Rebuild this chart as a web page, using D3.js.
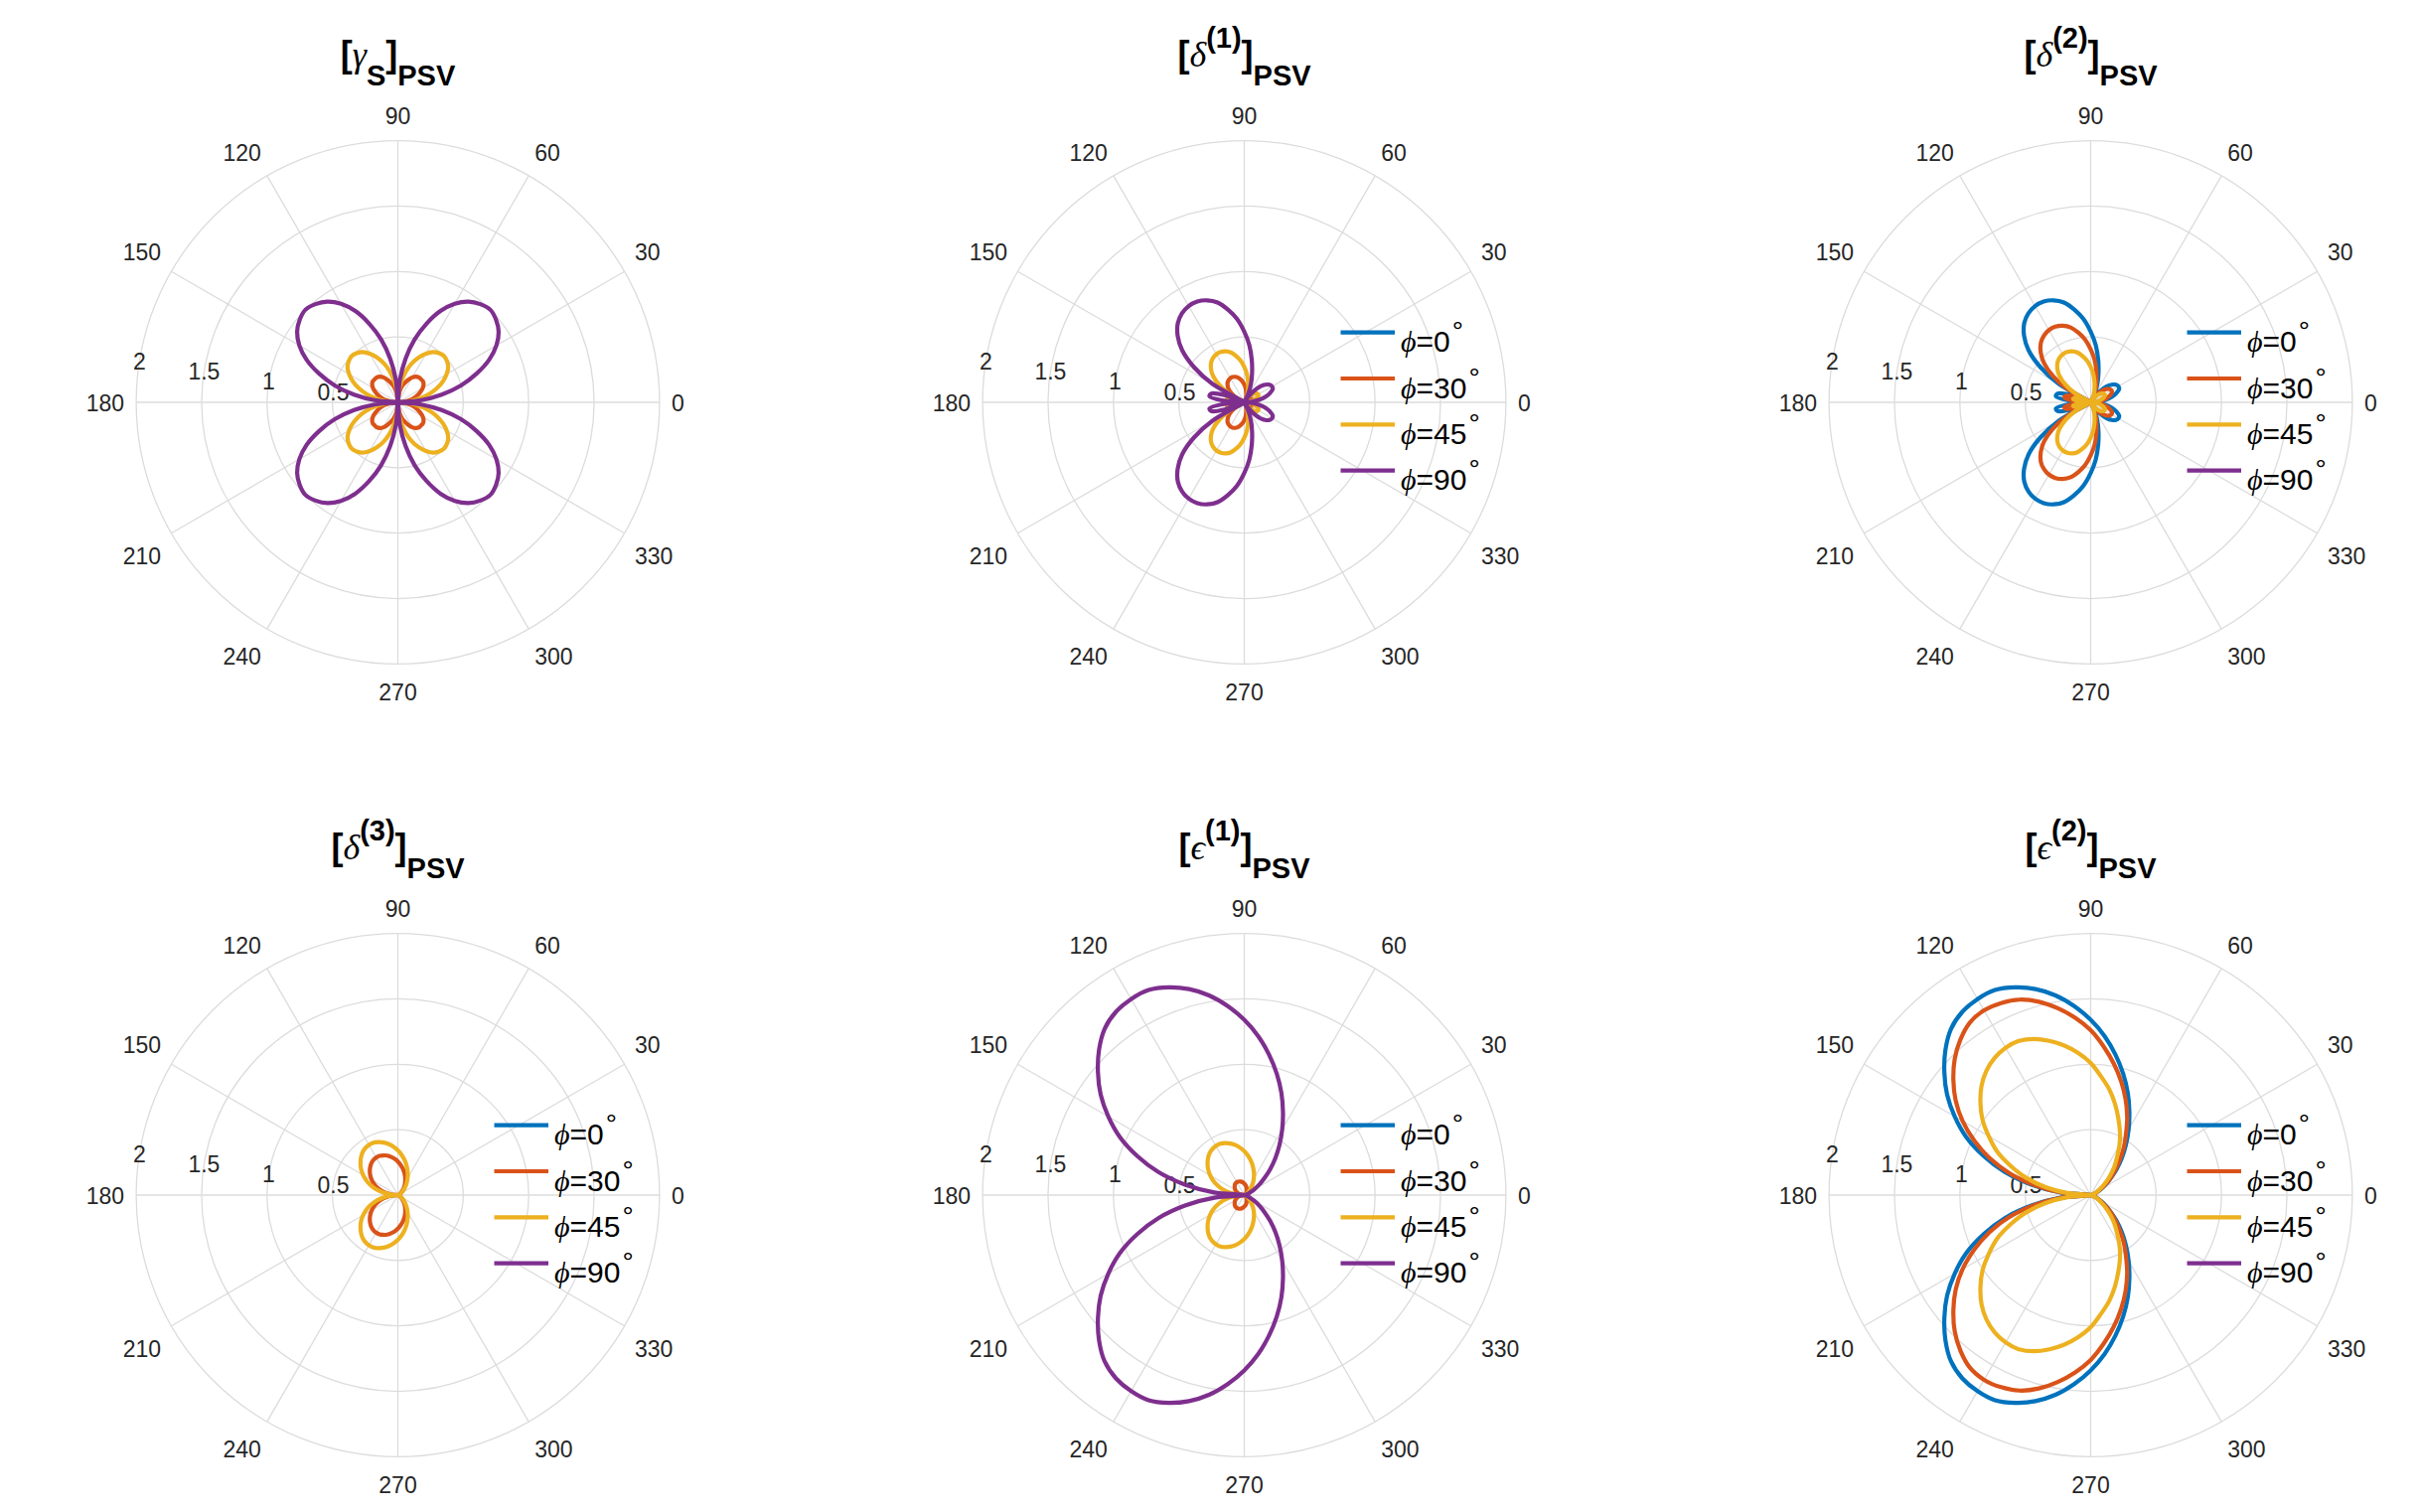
<!DOCTYPE html>
<html>
<head>
<meta charset="utf-8">
<script src="https://cdn.jsdelivr.net/npm/d3@7"></script>
<style>
  body { margin: 0; background: #ffffff; }
  svg text { font-family: 'Liberation Sans', Arial, Helvetica, sans-serif; }
</style>
</head>
<body>
<svg id="chart" width="2437" height="1522"></svg>
<script>
// scattering angle samples (deg) for the upper half plane; every pattern is mirror
// symmetric about the 0-180 axis, so the lower half is the same readings reflected
var theta_deg = [0, 5, 10, 15, 20, 25, 30, 35, 40, 45, 50, 55, 60, 65, 70, 75, 80, 85, 90,
                 95, 100, 105, 110, 115, 120, 125, 130, 135, 140, 145, 150, 155, 160, 165, 170, 175, 180];

var phi_labels    = ['0', '30', '45', '90'];
var series_colors = ['#0072bd', '#d95319', '#edb120', '#7e2f8e'];
var angle_ticks   = [0, 30, 60, 90, 120, 150, 180, 210, 240, 270, 300, 330];
var radius_ticks  = [0.5, 1, 1.5, 2];

// a component that does not respond for that azimuth
var no_response = [0, 0, 0, 0, 0, 0, 0, 0, 0, 0, 0, 0, 0, 0, 0, 0, 0, 0, 0,
                   0, 0, 0, 0, 0, 0, 0, 0, 0, 0, 0, 0, 0, 0, 0, 0, 0, 0];

// [gamma_S]_PSV
var gamma_s_phi0  = no_response;
var gamma_s_phi30 = [0, 0.04, 0.09, 0.13, 0.16, 0.19, 0.22, 0.24, 0.25, 0.25, 0.25, 0.24, 0.22, 0.19, 0.16, 0.13, 0.09, 0.04, 0,
                     0.04, 0.09, 0.13, 0.16, 0.19, 0.22, 0.24, 0.25, 0.25, 0.25, 0.24, 0.22, 0.19, 0.16, 0.13, 0.09, 0.04, 0];
var gamma_s_phi45 = [0, 0.09, 0.17, 0.25, 0.32, 0.38, 0.43, 0.47, 0.49, 0.50, 0.49, 0.47, 0.43, 0.38, 0.32, 0.25, 0.17, 0.09, 0,
                     0.09, 0.17, 0.25, 0.32, 0.38, 0.43, 0.47, 0.49, 0.50, 0.49, 0.47, 0.43, 0.38, 0.32, 0.25, 0.17, 0.09, 0];
var gamma_s_phi90 = [0, 0.17, 0.34, 0.50, 0.64, 0.77, 0.87, 0.94, 0.98, 1.00, 0.98, 0.94, 0.87, 0.77, 0.64, 0.50, 0.34, 0.17, 0,
                     0.17, 0.34, 0.50, 0.64, 0.77, 0.87, 0.94, 0.98, 1.00, 0.98, 0.94, 0.87, 0.77, 0.64, 0.50, 0.34, 0.17, 0];

// [delta(1)]_PSV
var delta1_phi0  = no_response;
var delta1_phi30 = [0, 0.015, 0.03, 0.043, 0.053, 0.06, 0.061, 0.059, 0.053, 0.043, 0.028, 0.013, 0, 0.018, 0.038, 0.058, 0.083, 0.11, 0.135,
                    0.16, 0.18, 0.198, 0.208, 0.213, 0.213, 0.208, 0.198, 0.18, 0.155, 0.118, 0.07, 0, 0.04, 0.065, 0.068, 0.043, 0];
var delta1_phi45 = [0, 0.03, 0.06, 0.085, 0.105, 0.12, 0.123, 0.118, 0.105, 0.085, 0.055, 0.025, 0, 0.035, 0.075, 0.115, 0.165, 0.22, 0.27,
                    0.32, 0.36, 0.395, 0.415, 0.425, 0.425, 0.415, 0.395, 0.36, 0.31, 0.235, 0.14, 0, 0.08, 0.13, 0.135, 0.085, 0];
var delta1_phi90 = [0, 0.06, 0.12, 0.17, 0.21, 0.24, 0.245, 0.235, 0.21, 0.17, 0.11, 0.05, 0, 0.07, 0.15, 0.23, 0.33, 0.44, 0.54,
                    0.64, 0.72, 0.79, 0.83, 0.85, 0.85, 0.83, 0.79, 0.72, 0.62, 0.47, 0.28, 0, 0.16, 0.26, 0.27, 0.17, 0];

// [delta(2)]_PSV
var delta2_phi0  = [0, 0.06, 0.12, 0.17, 0.21, 0.24, 0.245, 0.235, 0.21, 0.17, 0.11, 0.05, 0, 0.07, 0.15, 0.23, 0.33, 0.44, 0.54,
                    0.64, 0.72, 0.79, 0.83, 0.85, 0.85, 0.83, 0.79, 0.72, 0.62, 0.47, 0.28, 0, 0.16, 0.26, 0.27, 0.17, 0];
var delta2_phi30 = [0, 0.045, 0.09, 0.128, 0.158, 0.18, 0.184, 0.176, 0.158, 0.128, 0.083, 0.038, 0, 0.053, 0.113, 0.173, 0.248, 0.33, 0.405,
                    0.48, 0.54, 0.593, 0.623, 0.638, 0.638, 0.623, 0.593, 0.54, 0.465, 0.353, 0.21, 0, 0.12, 0.195, 0.203, 0.128, 0];
var delta2_phi45 = [0, 0.03, 0.06, 0.085, 0.105, 0.12, 0.123, 0.118, 0.105, 0.085, 0.055, 0.025, 0, 0.035, 0.075, 0.115, 0.165, 0.22, 0.27,
                    0.32, 0.36, 0.395, 0.415, 0.425, 0.425, 0.415, 0.395, 0.36, 0.31, 0.235, 0.14, 0, 0.08, 0.13, 0.135, 0.085, 0];
var delta2_phi90 = no_response;

// [delta(3)]_PSV
var delta3_phi0  = no_response;
var delta3_phi30 = [0, 0, 0.001, 0.002, 0.005, 0.010, 0.017, 0.027, 0.039, 0.053, 0.070, 0.090, 0.111, 0.134, 0.159, 0.184, 0.209, 0.233, 0.257,
                    0.278, 0.296, 0.312, 0.323, 0.331, 0.332, 0.327, 0.316, 0.300, 0.280, 0.257, 0.230, 0.200, 0.167, 0.131, 0.088, 0.045, 0];
var delta3_phi45 = [0, 0, 0.001, 0.003, 0.007, 0.014, 0.023, 0.035, 0.051, 0.071, 0.094, 0.119, 0.148, 0.179, 0.211, 0.245, 0.278, 0.311, 0.342,
                    0.370, 0.395, 0.416, 0.431, 0.441, 0.442, 0.436, 0.422, 0.400, 0.373, 0.343, 0.306, 0.267, 0.222, 0.174, 0.118, 0.060, 0];
var delta3_phi90 = no_response;

// [epsilon(1)]_PSV
var eps1_phi0  = no_response;
var eps1_phi30 = [0, 0, 0, 0.001, 0.002, 0.003, 0.006, 0.009, 0.013, 0.018, 0.024, 0.031, 0.038, 0.046, 0.054, 0.063, 0.072, 0.080, 0.088,
                  0.095, 0.102, 0.107, 0.111, 0.113, 0.114, 0.112, 0.109, 0.103, 0.096, 0.088, 0.079, 0.069, 0.057, 0.045, 0.030, 0.015, 0];
var eps1_phi45 = [0, 0, 0, 0.003, 0.007, 0.013, 0.022, 0.035, 0.050, 0.069, 0.092, 0.117, 0.145, 0.176, 0.207, 0.240, 0.273, 0.305, 0.336,
                  0.363, 0.388, 0.408, 0.423, 0.433, 0.434, 0.428, 0.414, 0.393, 0.366, 0.336, 0.301, 0.262, 0.218, 0.171, 0.116, 0.058, 0];
var eps1_phi90 = [0, 0, 0, 0.01, 0.03, 0.05, 0.09, 0.14, 0.20, 0.28, 0.37, 0.47, 0.58, 0.70, 0.83, 0.96, 1.09, 1.22, 1.34,
                  1.45, 1.55, 1.63, 1.69, 1.73, 1.73, 1.71, 1.66, 1.57, 1.46, 1.34, 1.20, 1.05, 0.87, 0.68, 0.46, 0.23, 0];

// [epsilon(2)]_PSV
var eps2_phi0  = [0, 0, 0, 0.01, 0.03, 0.05, 0.09, 0.14, 0.20, 0.28, 0.37, 0.47, 0.58, 0.70, 0.83, 0.96, 1.09, 1.22, 1.34,
                  1.45, 1.55, 1.63, 1.69, 1.73, 1.73, 1.71, 1.66, 1.57, 1.46, 1.34, 1.20, 1.05, 0.87, 0.68, 0.46, 0.23, 0];
var eps2_phi30 = [0, 0, 0, 0.01, 0.03, 0.05, 0.08, 0.13, 0.19, 0.26, 0.34, 0.44, 0.54, 0.66, 0.78, 0.90, 1.02, 1.14, 1.26,
                  1.36, 1.45, 1.53, 1.59, 1.62, 1.63, 1.61, 1.55, 1.47, 1.37, 1.26, 1.13, 0.98, 0.82, 0.64, 0.43, 0.22, 0];
var eps2_phi45 = [0, 0, 0, 0.01, 0.02, 0.04, 0.07, 0.10, 0.15, 0.21, 0.28, 0.35, 0.44, 0.53, 0.62, 0.72, 0.82, 0.91, 1.01,
                  1.09, 1.16, 1.22, 1.27, 1.30, 1.30, 1.28, 1.24, 1.18, 1.10, 1.01, 0.90, 0.79, 0.65, 0.51, 0.35, 0.18, 0];
var eps2_phi90 = no_response;

// one entry per subplot, in reading order
var panels = [
    { greek: '\u03b3', script: 'S',   sub: true,  legend: false, series: [gamma_s_phi0, gamma_s_phi30, gamma_s_phi45, gamma_s_phi90] },
    { greek: '\u03b4', script: '(1)', sub: false, legend: true,  series: [delta1_phi0, delta1_phi30, delta1_phi45, delta1_phi90] },
    { greek: '\u03b4', script: '(2)', sub: false, legend: true,  series: [delta2_phi0, delta2_phi30, delta2_phi45, delta2_phi90] },
    { greek: '\u03b4', script: '(3)', sub: false, legend: true,  series: [delta3_phi0, delta3_phi30, delta3_phi45, delta3_phi90] },
    { greek: '\u03f5', script: '(1)', sub: false, legend: true,  series: [eps1_phi0, eps1_phi30, eps1_phi45, eps1_phi90] },
    { greek: '\u03f5', script: '(2)', sub: false, legend: true,  series: [eps2_phi0, eps2_phi30, eps2_phi45, eps2_phi90] }
];

// Layout params
var col_centers  = [400.5, 1252.5, 2104.5];
var row_centers  = [405, 1203];
var outer_radius = 263.4;   // pixel radius of the r = 2 ring
var grid_color   = '#dcdcdc';
var text_color   = '#262626';
var line_width   = 4.2;
var tick_font    = 23;

var svg = d3.select('#chart');

svg.append('rect')
    .attr('width', 2437)
    .attr('height', 1522)
    .attr('fill', '#ffffff');

var r_scale = d3.scaleLinear()
    .domain([0, 2])
    .range([0, outer_radius]);

var to_rad = function(deg) { return deg * Math.PI / 180; };

// radial line generator: plot angle 0 is on the right and grows counter clockwise
var radial_line = d3.lineRadial()
    .angle(function(d) { return to_rad(90 - d[0]); })
    .radius(function(d) { return r_scale(d[1]); })
    .curve(d3.curveCatmullRomClosed.alpha(0.5));

// turn the upper-half readings into a full closed loop
function full_loop(values) {
    var pts = [];
    theta_deg.forEach(function(t, i) {
        pts.push([t, values[i]]);
    });
    for (var i = theta_deg.length - 2; i >= 1; i--) {
        pts.push([360 - theta_deg[i], values[i]]);
    }
    return pts;
}

panels.forEach(function(panel, p) {
    var cx = col_centers[p % 3];
    var cy = row_centers[Math.floor(p / 3)];

    var g = svg.append('g')
        .attr('transform', 'translate(' + cx + ',' + cy + ')');

    // grid rings
    g.selectAll('circle.ring')
        .data(radius_ticks)
        .enter()
        .append('circle')
        .attr('class', 'ring')
        .attr('r', function(d) { return r_scale(d); })
        .attr('fill', 'none')
        .attr('stroke', grid_color)
        .attr('stroke-width', 1.3);

    // spokes
    g.selectAll('line.spoke')
        .data(angle_ticks)
        .enter()
        .append('line')
        .attr('class', 'spoke')
        .attr('x1', 0)
        .attr('y1', 0)
        .attr('x2', function(d) { return r_scale(2) * Math.cos(to_rad(d)); })
        .attr('y2', function(d) { return -r_scale(2) * Math.sin(to_rad(d)); })
        .attr('stroke', grid_color)
        .attr('stroke-width', 1.3);

    // angle labels, aligned away from the circle like matlab does
    var label_r = r_scale(2) + 12;
    g.selectAll('text.theta')
        .data(angle_ticks)
        .enter()
        .append('text')
        .attr('class', 'theta')
        .attr('x', function(d) { return label_r * Math.cos(to_rad(d)); })
        .attr('y', function(d) {
            var y = -label_r * Math.sin(to_rad(d));
            var s = Math.sin(to_rad(d));
            if (s > 0.01) return y - 5;
            if (s < -0.01) return y + 25;
            return y + 8.5;
        })
        .attr('text-anchor', function(d) {
            var c = Math.cos(to_rad(d));
            if (c > 0.01) return 'start';
            if (c < -0.01) return 'end';
            return 'middle';
        })
        .attr('font-size', tick_font + 'px')
        .attr('fill', text_color)
        .text(function(d) { return d; });

    // radius labels sit along the 171 degree direction
    var r_label_angle = to_rad(171);
    g.selectAll('text.rtick')
        .data(radius_ticks)
        .enter()
        .append('text')
        .attr('class', 'rtick')
        .attr('x', function(d) { return r_scale(d) * Math.cos(r_label_angle); })
        .attr('y', function(d) { return -r_scale(d) * Math.sin(r_label_angle) + 8; })
        .attr('text-anchor', 'middle')
        .attr('font-size', tick_font + 'px')
        .attr('fill', text_color)
        .text(function(d) { return d; });

    // the curves, phi = 0 first so phi = 90 ends on top
    g.selectAll('path.pattern')
        .data(panel.series)
        .enter()
        .append('path')
        .attr('class', 'pattern')
        .attr('d', function(d) { return radial_line(full_loop(d)); })
        .attr('fill', 'none')
        .attr('stroke', function(d, i) { return series_colors[i]; })
        .attr('stroke-width', line_width)
        .attr('stroke-linejoin', 'round');

    // title: [greek^(n)]_PSV
    var shift = 19;
    var title = g.append('text')
        .attr('x', 0)
        .attr('y', 67 - 405)
        .attr('text-anchor', 'middle')
        .attr('fill', '#000000');

    title.append('tspan')
        .attr('font-size', '36px')
        .attr('font-weight', 'bold')
        .text('[');
    title.append('tspan')
        .attr('font-size', '36px')
        .style('font-family', "'Liberation Serif', 'DejaVu Serif', serif")
        .attr('font-style', 'italic')
        .text(panel.greek);
    title.append('tspan')
        .attr('font-size', '29px')
        .attr('font-weight', 'bold')
        .attr('dy', panel.sub ? shift : -shift)
        .text(panel.script);
    title.append('tspan')
        .attr('font-size', '36px')
        .attr('font-weight', 'bold')
        .attr('dy', panel.sub ? -shift : shift)
        .text(']');
    title.append('tspan')
        .attr('font-size', '29px')
        .attr('font-weight', 'bold')
        .attr('dy', shift)
        .text('PSV');

    if (!panel.legend) return;

    // legend, no box
    var legend = g.append('g').attr('class', 'legend');
    phi_labels.forEach(function(label, i) {
        var ly = -70.3 + i * 46.3;

        legend.append('line')
            .attr('x1', 97)
            .attr('x2', 151.5)
            .attr('y1', ly)
            .attr('y2', ly)
            .attr('stroke', series_colors[i])
            .attr('stroke-width', line_width);

        var entry = legend.append('text')
            .attr('x', 157.5)
            .attr('y', ly + 19.5)
            .attr('font-size', '30px')
            .attr('fill', '#000000');

        entry.append('tspan')
            .style('font-family', "'Liberation Serif', 'DejaVu Serif', serif")
            .attr('font-style', 'italic')
            .text('\u03d5');
        entry.append('tspan')
            .text('=' + label);
        entry.append('tspan')
            .attr('font-size', '28px')
            .attr('dx', 2)
            .attr('dy', -11)
            .text('\u00b0');
    });
});
</script>
</body>
</html>
